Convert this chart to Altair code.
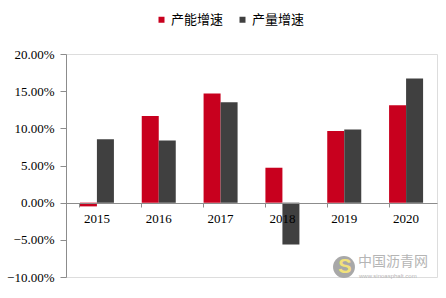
import altair as alt
import pandas as pd

years = ["2015", "2016", "2017", "2018", "2019", "2020"]
capacity_growth = [-0.005, 0.1166, 0.147, 0.047, 0.0965, 0.131]
output_growth = [0.0854, 0.0835, 0.135, -0.0563, 0.0983, 0.167]
series_names = ["产能增速", "产量增速"]
colors = ["#C8001E", "#404040"]
y_ticks = [-0.10, -0.05, 0.0, 0.05, 0.10, 0.15, 0.20]

rows = []
for i, y in enumerate(years):
    rows.append({"year": y, "series": series_names[0], "value": capacity_growth[i]})
    rows.append({"year": y, "series": series_names[1], "value": output_growth[i]})
df = pd.DataFrame(rows)

serif = "Liberation Serif"
cjk = "Noto Sans CJK SC"

bars = alt.Chart(df).mark_bar().encode(
    x=alt.X("year:N", sort=years, title=None,
            scale=alt.Scale(paddingInner=0.45, paddingOuter=0.225),
            axis=alt.Axis(offset=-74, labelAngle=0, labelFont=serif, labelFontSize=13,
                          labelColor="#000000", domainColor="#8c8c8c", tickColor="#8c8c8c",
                          tickSize=4, bandPosition=0, labelPadding=5, grid=False, zindex=1)),
    xOffset=alt.XOffset("series:N", sort=series_names),
    y=alt.Y("value:Q", title=None,
            scale=alt.Scale(domain=[-0.10, 0.20], nice=False, zero=False),
            axis=alt.Axis(values=y_ticks, format=".2%", labelFont=serif, labelFontSize=13,
                          labelColor="#000000", domainColor="#8c8c8c", tickColor="#8c8c8c",
                          tickSize=6, labelPadding=6, grid=False)),
    color=alt.Color("series:N", sort=series_names,
                    scale=alt.Scale(domain=series_names, range=colors),
                    legend=alt.Legend(title=None, orient="none", direction="horizontal",
                                      legendX=89, legendY=-41, symbolType="square",
                                      symbolSize=36, symbolStrokeWidth=0,
                                      labelFont=cjk, labelFontSize=13, labelColor="#000000",
                                      columnPadding=12, labelOffset=3)),
)

wm1 = alt.Chart(pd.DataFrame({"t": ["中国沥青网"]})).mark_text(
    font=cjk, fontSize=14, color="#b5b5b5", align="left", baseline="middle"
).encode(text="t:N", x=alt.value(292), y=alt.value(208))
wm2 = alt.Chart(pd.DataFrame({"t": ["www.sinoasphalt.com"]})).mark_text(
    font="Liberation Sans", fontSize=6, color="#b5b5b5", align="left", baseline="middle"
).encode(text="t:N", x=alt.value(293), y=alt.value(222))
logo = alt.Chart(pd.DataFrame({"a": [1]})).mark_circle(
    color="#a8a8a8", opacity=1, size=480
).encode(x=alt.value(278), y=alt.value(213))
logo_s = alt.Chart(pd.DataFrame({"a": [1]})).mark_text(
    text="S", font="Liberation Sans", fontSize=20, fontWeight="bold", color="#f2e27a",
    align="center", baseline="middle"
).encode(x=alt.value(279), y=alt.value(213))

chart = alt.layer(bars, logo, logo_s, wm1, wm2).properties(
    width=371, height=223,
    autosize=alt.AutoSizeParams(type="none"),
    padding={"left": 66, "top": 54, "right": 9, "bottom": 21},
).configure_view(stroke=None).configure(background="#ffffff")

chart.save("out.html", embed_options={"renderer": "svg", "actions": False})
